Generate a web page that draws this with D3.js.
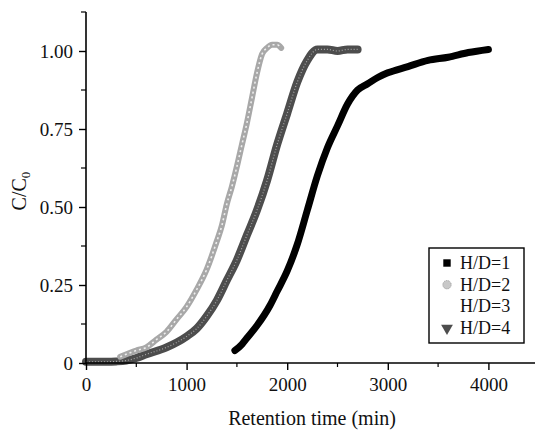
<!DOCTYPE html>
<html>
<head>
<meta charset="utf-8">
<script src="https://cdn.jsdelivr.net/npm/d3@7"></script>
<style>
  html, body { margin: 0; padding: 0; background: #fff; }
  svg { display: block; }
  text { font-family: "Liberation Serif", "Times New Roman", serif; fill: #111; }
</style>
</head>
<body>
<svg id="chart" width="535" height="433"></svg>
<script>
// ---- data ----
const legendLabels = ["H/D=1", "H/D=2", "H/D=3", "H/D=4"];

const hd1Time = [1480, 1550, 1600, 1700, 1830, 1900, 2000, 2100, 2200, 2300, 2400, 2500, 2600, 2700, 2800, 2900, 3000, 3200, 3400, 3600, 3800, 4000];
const hd1Conc = [0.04, 0.06, 0.08, 0.12, 0.185, 0.23, 0.295, 0.38, 0.49, 0.60, 0.69, 0.76, 0.83, 0.875, 0.895, 0.915, 0.93, 0.95, 0.97, 0.98, 0.995, 1.005];

const hd2Time = [340, 500, 600, 700, 800, 900, 1000, 1100, 1200, 1300, 1350, 1400, 1450, 1500, 1550, 1600, 1650, 1700, 1750, 1800, 1850, 1900, 1940];
const hd2Conc = [0.02, 0.04, 0.05, 0.075, 0.10, 0.14, 0.18, 0.235, 0.30, 0.39, 0.44, 0.51, 0.565, 0.63, 0.70, 0.77, 0.85, 0.93, 0.99, 1.01, 1.02, 1.02, 1.01];

const hd3Time = [];
const hd3Conc = [];

const hd4Time = [0, 100, 200, 300, 400, 500, 600, 800, 1000, 1100, 1200, 1300, 1400, 1500, 1600, 1700, 1800, 1900, 2000, 2100, 2200, 2300, 2400, 2500, 2600, 2700];
const hd4Conc = [0.004, 0.004, 0.004, 0.005, 0.008, 0.016, 0.028, 0.05, 0.085, 0.11, 0.15, 0.20, 0.265, 0.33, 0.41, 0.49, 0.585, 0.70, 0.80, 0.90, 0.97, 1.005, 1.005, 1.0, 1.005, 1.005];

const xTickValues = [0, 1000, 2000, 3000, 4000];
const xTickLabels = ["0", "1000", "2000", "3000", "4000"];
const yTickValues = [0, 0.25, 0.5, 0.75, 1.0];
const yTickLabels = ["0", "0.25", "0.50", "0.75", "1.00"];

// ---- layout ----
const svg = d3.select("#chart");
const mLeft = 86, mTop = 12, mBottom = 363;
const x = d3.scaleLinear().domain([0, 4500]).range([mLeft, mLeft + 452.7]);
const y = d3.scaleLinear().domain([0, 1.125]).range([mBottom, mTop]);

// series drawing
const series = [
  {name: "H/D=4", t: hd4Time, c: hd4Conc, color: "#4d4d4d", width: 8, symbol: d3.symbolTriangle, rot: 180},
  {name: "H/D=2", t: hd2Time, c: hd2Conc, color: "#a8a8a8", width: 6, symbol: d3.symbolCircle, rot: 0},
  {name: "H/D=3", t: hd3Time, c: hd3Conc, color: "#ffffff", width: 0, symbol: null, rot: 0},
  {name: "H/D=1", t: hd1Time, c: hd1Conc, color: "#000000", width: 7, symbol: d3.symbolSquare, rot: 0}
];

const line = d3.line().x(d => x(d[0])).y(d => y(d[1])).curve(d3.curveMonotoneX);
const plot = svg.append("g");

series.forEach(s => {
  const pts = s.t.map((t, i) => [t, s.c[i]]);
  if (!pts.length) return;
  plot.append("path").datum(pts)
    .attr("d", line)
    .attr("fill", "none")
    .attr("stroke", s.color)
    .attr("stroke-width", s.width)
    .attr("stroke-linecap", "round")
    .attr("stroke-linejoin", "round");
  if (s.name === "H/D=2") {
    plot.append("path").datum(pts)
      .attr("d", line)
      .attr("fill", "none")
      .attr("stroke", "#fff")
      .attr("stroke-width", 1.6)
      .attr("stroke-dasharray", "2,3")
      .attr("opacity", 0.8);
  }
  if (s.name === "H/D=4") {
    plot.append("path").datum(pts)
      .attr("d", line)
      .attr("fill", "none")
      .attr("stroke", "#fff")
      .attr("stroke-width", 1.2)
      .attr("stroke-dasharray", "1,2")
      .attr("opacity", 0.5);
  }
});

// ---- axes ----
const xAxis = d3.axisBottom(x).tickValues(xTickValues)
  .tickFormat((d, i) => xTickLabels[i]).tickSize(7).tickPadding(8);
const gx = svg.append("g").attr("transform", `translate(0,${mBottom})`).call(xAxis);
gx.select(".domain").attr("stroke", "#000").attr("stroke-width", 1.6).attr("d", `M${mLeft},0H535`);
gx.selectAll(".tick line").attr("stroke", "#000").attr("stroke-width", 1.4);
gx.selectAll(".tick text").attr("font-size", 19).attr("font-family", "Liberation Serif").attr("fill", "#111");
// minor x ticks
svg.append("g").selectAll("line").data([500, 1500, 2500, 3500]).join("line")
  .attr("x1", d => x(d)).attr("x2", d => x(d))
  .attr("y1", mBottom).attr("y2", mBottom + 4)
  .attr("stroke", "#000").attr("stroke-width", 1.2);

const yAxis = d3.axisLeft(y).tickValues(yTickValues)
  .tickFormat((d, i) => yTickLabels[i]).tickSize(7).tickPadding(6);
const gy = svg.append("g").attr("transform", `translate(${mLeft},0)`).call(yAxis);
gy.select(".domain").attr("stroke", "#000").attr("stroke-width", 1.6).attr("d", `M0,${mBottom}V${mTop}`);
gy.selectAll(".tick line").attr("stroke", "#000").attr("stroke-width", 1.4);
gy.selectAll(".tick text").attr("font-size", 19).attr("font-family", "Liberation Serif").attr("fill", "#111");
// minor y ticks
svg.append("g").selectAll("line").data([0.125, 0.375, 0.625, 0.875, 1.125]).join("line")
  .attr("x1", mLeft - 5).attr("x2", mLeft)
  .attr("y1", d => y(d)).attr("y2", d => y(d))
  .attr("stroke", "#000").attr("stroke-width", 1.2);

// axis titles
svg.append("text")
  .attr("x", 312).attr("y", 425)
  .attr("text-anchor", "middle")
  .attr("font-size", 20)
  .text("Retention time (min)");

const yl = svg.append("text")
  .attr("transform", "translate(26,191) rotate(-90)")
  .attr("text-anchor", "middle")
  .attr("font-size", 20);
yl.append("tspan").text("C/C");
yl.append("tspan").attr("font-size", 13).attr("dy", 4).text("0");

// ---- legend ----
const lg = svg.append("g");
lg.append("rect").attr("x", 429).attr("y", 248).attr("width", 95).attr("height", 95)
  .attr("fill", "#fff").attr("stroke", "#000").attr("stroke-width", 1.4);
legendLabels.forEach((name, i) => {
  const s = series.find(d => d.name === name);
  const cy = 263 + i * 21.7;
  if (s.symbol) {
    lg.append("path")
      .attr("d", d3.symbol().type(s.symbol).size(name === "H/D=4" ? 60 : 55)())
      .attr("transform", `translate(447,${cy}) rotate(${s.rot})`)
      .attr("fill", name === "H/D=2" ? "#c8c8c8" : s.color)
      .attr("stroke", name === "H/D=2" ? "#999" : "none")
      .attr("stroke-width", 1)
      .attr("stroke-dasharray", name === "H/D=2" ? "1,1" : null);
  }
  lg.append("text").attr("x", 460).attr("y", cy + 6)
    .attr("font-size", 18).text(name);
});
</script>
</body>
</html>
